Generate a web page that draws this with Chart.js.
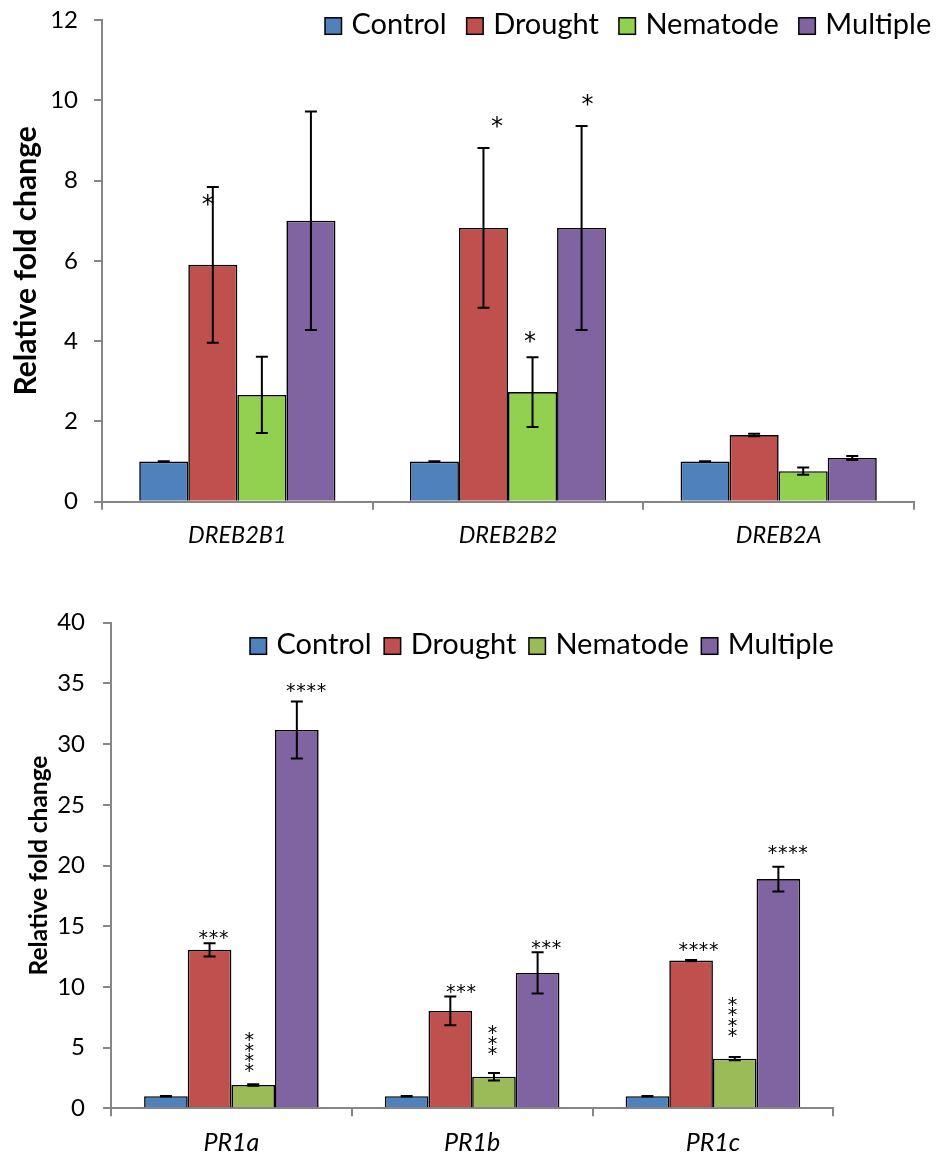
<!DOCTYPE html>
<html>
<head>
<meta charset="utf-8">
<script src="https://cdn.jsdelivr.net/npm/chart.js@4.4.1/dist/chart.umd.min.js"></script>
<style>
  html, body { margin: 0; padding: 0; background: #fff; }
  body { width: 937px; height: 1155px; position: relative; overflow: hidden; }
  #topPanel { position: absolute; left: 0; top: 0; }
  #bottomPanel { position: absolute; left: 0; top: 570px; }
</style>
</head>
<body>
<canvas id="topPanel" width="937" height="565"></canvas>
<canvas id="bottomPanel" width="937" height="585"></canvas>
<script>
// ---- DREB2 transcription factors ----
const drebGenes = ['DREB2B1', 'DREB2B2', 'DREB2A'];
const drebTicks = [0, 2, 4, 6, 8, 10, 12];
const drebControl     = [1.00, 1.00, 1.00];
const drebControlErr  = [0.01, 0.01, 0.01];
const drebDrought     = [5.90, 6.82, 1.66];
const drebDroughtErr  = [1.94, 1.99, 0.03];
const drebNematode    = [2.66, 2.73, 0.76];
const drebNematodeErr = [0.95, 0.87, 0.09];
const drebMultiple    = [7.00, 6.82, 1.09];
const drebMultipleErr = [2.72, 2.54, 0.05];
const drebDroughtSig  = ['*', '*', ''];
const drebNematodeSig = ['', '*', ''];
const drebMultipleSig = ['', '*', ''];

// ---- PR1 pathogenesis-related genes ----
const prGenes = ['PR1a', 'PR1b', 'PR1c'];
const prTicks = [0, 5, 10, 15, 20, 25, 30, 35, 40];
const prControl     = [1.00, 1.00, 1.00];
const prControlErr  = [0.02, 0.02, 0.02];
const prDrought     = [13.05, 8.02, 12.17];
const prDroughtErr  = [0.55, 1.18, 0.05];
const prNematode    = [1.92, 2.60, 4.09];
const prNematodeErr = [0.06, 0.30, 0.13];
const prMultiple    = [31.16, 11.15, 18.88];
const prMultipleErr = [2.35, 1.70, 1.02];
const prDroughtSig  = ['***', '***', '****'];
const prNematodeSig = ['****', '***', '****'];
const prMultipleSig = ['****', '***', '****'];

const treatments = ['Control', 'Drought', 'Nematode', 'Multiple'];

const FONT = 'Lato, "Open Sans", sans-serif';
const STAR_FONT = '"DejaVu Sans", sans-serif';

// Error bars: vertical whisker with caps, centred on each bar.
const errorBars = {
  id: 'errorBars',
  afterDatasetsDraw(chart, args, opts) {
    const ctx = chart.ctx;
    const yScale = chart.scales.y;
    ctx.save();
    ctx.strokeStyle = '#000';
    ctx.lineWidth = opts.lineWidth;
    chart.data.datasets.forEach((ds, di) => {
      const meta = chart.getDatasetMeta(di);
      meta.data.forEach((bar, i) => {
        const v = ds.data[i], e = ds.errors[i];
        const x = bar.x;
        const yt = yScale.getPixelForValue(v + e);
        const yb = yScale.getPixelForValue(v - e);
        const h = opts.capWidth / 2;
        ctx.beginPath();
        ctx.moveTo(x, yt); ctx.lineTo(x, yb);
        ctx.moveTo(x - h, yt); ctx.lineTo(x + h, yt);
        ctx.moveTo(x - h, yb); ctx.lineTo(x + h, yb);
        ctx.stroke();
      });
    });
    ctx.restore();
  }
};

// Significance asterisks placed relative to the top of each error bar.
const sigMarks = {
  id: 'sigMarks',
  afterDatasetsDraw(chart, args, opts) {
    const ctx = chart.ctx;
    const yScale = chart.scales.y;
    const cats = chart.data.labels;
    ctx.save();
    ctx.fillStyle = '#000';
    ctx.font = opts.font;
    ctx.textAlign = 'center';
    ctx.textBaseline = 'alphabetic';
    const m = ctx.measureText('*');
    const lift = (m.actualBoundingBoxAscent - m.actualBoundingBoxDescent) / 2;
    chart.data.datasets.forEach((ds, di) => {
      if (!ds.sig) return;
      const meta = chart.getDatasetMeta(di);
      ds.sig.forEach((s, i) => {
        if (!s) return;
        const place = opts.place[ds.label + ':' + cats[i]];
        const bar = meta.data[i];
        const top = yScale.getPixelForValue(ds.data[i] + ds.errors[i]);
        const cx = bar.x + place.dx;
        const cy = top + place.dy;
        const n = s.length;
        for (let k = 0; k < n; k++) {
          const step = (k - (n - 1) / 2) * opts.spacing;
          const px = place.vertical ? cx : cx + step;
          const py = place.vertical ? cy + step : cy;
          ctx.fillText('*', px, py + lift);
        }
      });
    });
    ctx.restore();
  }
};

// Legend row: outlined colour box followed by the series name.
const boxLegend = {
  id: 'boxLegend',
  afterDraw(chart, args, opts) {
    const ctx = chart.ctx;
    ctx.save();
    ctx.font = opts.font;
    ctx.textBaseline = 'alphabetic';
    ctx.textAlign = 'left';
    let x = opts.x;
    chart.data.datasets.forEach(ds => {
      ctx.fillStyle = ds.backgroundColor;
      ctx.fillRect(x, opts.baseline - opts.box, opts.box, opts.box);
      ctx.strokeStyle = '#000';
      ctx.lineWidth = 1.5;
      ctx.strokeRect(x, opts.baseline - opts.box, opts.box, opts.box);
      x += opts.box + opts.textGap;
      ctx.fillStyle = '#000';
      ctx.fillText(ds.label, x, opts.baseline);
      x += ctx.measureText(ds.label).width + opts.itemGap;
    });
    ctx.restore();
  }
};

function makeDataset(label, color, values, errors, sig) {
  return {
    label: label,
    data: values,
    errors: errors,
    sig: sig,
    backgroundColor: color,
    borderColor: '#000',
    borderWidth: 1.6,
    categoryPercentage: 0.725,
    barPercentage: 1.0
  };
}

function axisOptions(cfg) {
  return {
    x: {
      grid: { display: true, offset: true, drawOnChartArea: false, drawTicks: true,
              tickLength: 8, color: '#868686', lineWidth: 2 },
      border: { display: true, color: '#868686', width: 2 },
      ticks: { color: '#000', padding: cfg.xPad,
               font: { family: FONT, size: cfg.catSize, style: 'italic' } },
      afterFit(scale) {
        scale.height = cfg.xHeight;
        scale.paddingLeft = 0; scale.paddingRight = 0;
      }
    },
    y: {
      min: cfg.ticks[0],
      max: cfg.ticks[cfg.ticks.length - 1],
      afterBuildTicks(scale) { scale.ticks = cfg.ticks.map(v => ({ value: v })); },
      grid: { display: true, drawOnChartArea: false, drawTicks: true,
              tickLength: 8, color: '#868686', lineWidth: 2 },
      border: { display: true, color: '#868686', width: 2 },
      ticks: { color: '#000', padding: cfg.yPad,
               font: { family: FONT, size: cfg.tickSize } },
      title: { display: true, text: 'Relative fold change', color: '#000',
               font: { family: FONT, size: cfg.titleSize, weight: 'bold' },
               padding: { top: cfg.titlePad, bottom: 0 } },
      afterFit(scale) {
        scale.width = cfg.yWidth;
        scale.paddingTop = 0; scale.paddingBottom = 0;
      }
    }
  };
}

Chart.defaults.devicePixelRatio = 1;

new Chart(document.getElementById('topPanel'), {
  type: 'bar',
  data: {
    labels: drebGenes,
    datasets: [
      makeDataset(treatments[0], '#4F81BD', drebControl, drebControlErr, null),
      makeDataset(treatments[1], '#C0504D', drebDrought, drebDroughtErr, drebDroughtSig),
      makeDataset(treatments[2], '#92D050', drebNematode, drebNematodeErr, drebNematodeSig),
      makeDataset(treatments[3], '#8064A2', drebMultiple, drebMultipleErr, drebMultipleSig)
    ]
  },
  options: {
    responsive: false,
    animation: false,
    layout: { padding: { left: 0, right: 23, top: 20, bottom: 0 } },
    scales: axisOptions({ ticks: drebTicks, xPad: 12, catSize: 23.5, xHeight: 63.3,
                          yPad: 16, tickSize: 24, titleSize: 30, titlePad: 8, yWidth: 102 }),
    plugins: {
      legend: { display: false },
      tooltip: { enabled: false },
      errorBars: { lineWidth: 2, capWidth: 12 },
      sigMarks: {
        font: '24px ' + STAR_FONT, spacing: 10,
        place: {
          'Drought:DREB2B1':  { dx: -5,   dy: 13 },
          'Drought:DREB2B2':  { dx: 13.5, dy: -26 },
          'Nematode:DREB2B2': { dx: -2.5, dy: -20 },
          'Multiple:DREB2B2': { dx: 6,    dy: -26 }
        }
      },
      boxLegend: { font: '29px ' + FONT, x: 325, baseline: 34.3, box: 16.5, textGap: 10, itemGap: 20 }
    }
  },
  plugins: [errorBars, sigMarks, boxLegend]
});

new Chart(document.getElementById('bottomPanel'), {
  type: 'bar',
  data: {
    labels: prGenes,
    datasets: [
      makeDataset(treatments[0], '#4F81BD', prControl, prControlErr, null),
      makeDataset(treatments[1], '#C0504D', prDrought, prDroughtErr, prDroughtSig),
      makeDataset(treatments[2], '#9BBB59', prNematode, prNematodeErr, prNematodeSig),
      makeDataset(treatments[3], '#8064A2', prMultiple, prMultipleErr, prMultipleSig)
    ]
  },
  options: {
    responsive: false,
    animation: false,
    layout: { padding: { left: 0, right: 103.7, top: 52.7, bottom: 0 } },
    scales: axisOptions({ ticks: prTicks, xPad: 12, catSize: 25, xHeight: 46.7,
                          yPad: 18, tickSize: 24, titleSize: 24.5, titlePad: 24, yWidth: 111 }),
    plugins: {
      legend: { display: false },
      tooltip: { enabled: false },
      errorBars: { lineWidth: 2, capWidth: 12 },
      sigMarks: {
        font: '19px ' + STAR_FONT, spacing: 10.2,
        place: {
          'Drought:PR1a':  { dx: 4,    dy: -9 },
          'Nematode:PR1a': { dx: -4,   dy: -32, vertical: true },
          'Multiple:PR1a': { dx: 9.3,  dy: -14.3 },
          'Drought:PR1b':  { dx: 10.7, dy: -8 },
          'Nematode:PR1b': { dx: -1.4, dy: -33, vertical: true },
          'Multiple:PR1b': { dx: 8.6,  dy: -8 },
          'Drought:PR1c':  { dx: 7.4,  dy: -13 },
          'Nematode:PR1c': { dx: -2.2, dy: -40, vertical: true },
          'Multiple:PR1c': { dx: 9.4,  dy: -17 }
        }
      },
      boxLegend: { font: '29px ' + FONT, x: 250, baseline: 84.3, box: 16.5, textGap: 10, itemGap: 12.5 }
    }
  },
  plugins: [errorBars, sigMarks, boxLegend]
});
</script>
</body>
</html>
